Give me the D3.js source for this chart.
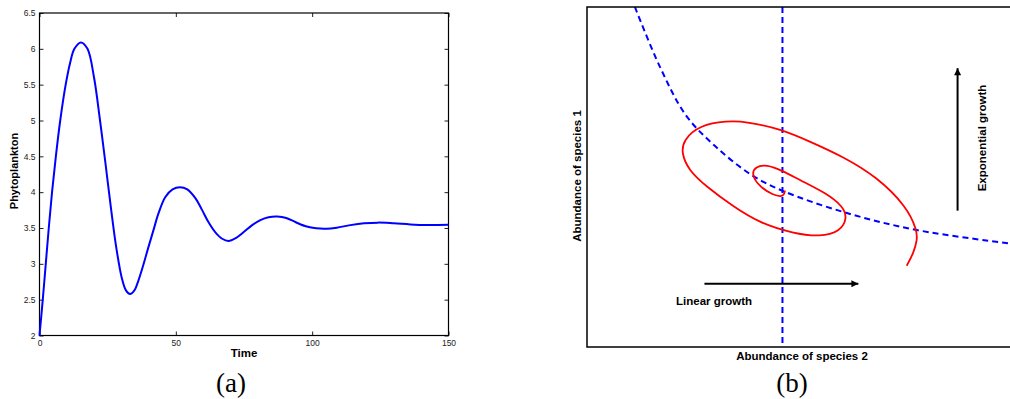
<!DOCTYPE html>
<html lang="en">
<head>
  <meta charset="UTF-8">
  <title>Phytoplankton and species abundance</title>
  <script src="https://d3js.org/d3.v7.min.js"></script>
  <style>
    body { margin: 0; padding: 0; background: white; overflow: hidden; }
  </style>
</head>
<body>
  <svg id="chart" width="1010" height="399"></svg>
  <script>
    // ---- Panel (a) data: phytoplankton over time ----
    const timeVals = [0, 1.2, 2.3, 3.4, 4.6, 6, 7.6, 9.6, 11.2, 12.8, 15.2,
                      17.6, 20, 22.2, 24.2, 26.3, 28.1, 30.2, 31.7, 33.2,
                      34.8, 36.3, 38.2, 40, 41.8, 43.6, 46.1, 48.8, 51.5,
                      54.2, 57.1, 59.5, 62, 64.5, 67, 69.3, 72, 74.8, 78, 81, 84, 87.2,
                      90.5, 94, 98, 101.5, 105.3, 109, 114, 119, 124.2, 130, 136, 142, 150];
    const phytoVals = [2, 2.5, 3, 3.5, 4, 4.5, 5, 5.5, 5.8, 6, 6.09,
                       6, 5.6, 5, 4.4, 3.75, 3.24, 2.8, 2.63, 2.58,
                       2.63, 2.77, 3, 3.24, 3.47, 3.7, 3.93, 4.04, 4.07,
                       4.04, 3.92, 3.76, 3.58, 3.44, 3.35, 3.32, 3.36, 3.44, 3.54, 3.61, 3.65, 3.66,
                       3.64, 3.58, 3.52, 3.495, 3.49, 3.505, 3.54, 3.565, 3.575, 3.565, 3.55, 3.542, 3.545];
    const xTicksA = [0, 50, 100, 150];
    const yTicksA = [2, 2.5, 3, 3.5, 4, 4.5, 5, 5.5, 6, 6.5];

    // ---- Panel (b) data: schematic phase plane (arbitrary units 0..100) ----
    const nullX = [11.3, 17.2, 23.3, 30.2, 38.8, 46.0, 61.3, 77.8, 100];
    const nullY = [100, 82.4, 68.2, 59.1, 50.6, 46.0, 39.4, 34.4, 30.4];
    const vertNullX = 46.1;
    const spiralX = [75.4, 77.0, 77.9, 77.8, 75.4, 68.3, 60.4, 52.6, 46.0, 37.7, 32.9, 26.7, 22.7, 22.3, 23.9,
                     28.2, 34.5, 40.8, 48.7, 55.0, 59.7, 61.4, 60.4, 56.5, 50.2, 46.0, 42.4, 39.6, 38.8, 40.8,
                     43.9, 45.9, 46.5, 46.7];
    const spiralY = [23.9, 27.6, 31.5, 34.4, 41.3, 50.1, 56.0, 60.4, 64.0, 66.3, 66.5, 65.3, 60.9, 57.0, 52.1,
                     47.1, 41.3, 36.4, 33.4, 32.4, 33.9, 37.9, 41.3, 45.2, 49.1, 51.9, 53.7, 53.0, 50.6, 47.0,
                     44.7, 44.2, 44.9, 46.0];
    const linArrow = [[27.7, 18.6], [64.0, 18.6]];
    const expArrow = [[87.4, 40.1], [87.4, 82.0]];

    const sans = "'Liberation Sans', Arial, sans-serif";
    const serif = "'Liberation Serif', 'DejaVu Serif', serif";
    const svg = d3.select("#chart");

    // ================= Panel (a) =================
    const a = { left: 39.5, right: 448.5, top: 13, bottom: 335.5 };
    const xA = d3.scaleLinear().domain([0, 150]).range([a.left, a.right]);
    const yA = d3.scaleLinear().domain([2, 6.5]).range([a.bottom, a.top]);
    const gA = svg.append("g");

    // ticks on all four sides, pointing inward
    const tickLen = 4;
    gA.append("g").attr("transform", `translate(0,${a.bottom})`)
      .call(d3.axisBottom(xA).tickValues(xTicksA).tickSizeInner(-tickLen).tickSizeOuter(0).tickPadding(4))
      .call(g => g.select(".domain").remove());
    gA.append("g").attr("transform", `translate(0,${a.top})`)
      .call(d3.axisTop(xA).tickValues(xTicksA).tickSizeInner(-tickLen).tickSizeOuter(0).tickFormat(""))
      .call(g => g.select(".domain").remove());
    gA.append("g").attr("transform", `translate(${a.left},0)`)
      .call(d3.axisLeft(yA).tickValues(yTicksA).tickSizeInner(-tickLen).tickSizeOuter(0).tickPadding(4).tickFormat(d3.format("")))
      .call(g => g.select(".domain").remove());
    gA.append("g").attr("transform", `translate(${a.right},0)`)
      .call(d3.axisRight(yA).tickValues(yTicksA).tickSizeInner(-tickLen).tickSizeOuter(0).tickFormat(""))
      .call(g => g.select(".domain").remove());

    gA.selectAll(".tick text").attr("font-size", 8.5).attr("fill", "#222")
      .style("font-family", sans);
    gA.selectAll(".tick line").attr("stroke", "#222");

    // box
    gA.append("rect")
      .attr("x", a.left).attr("y", a.top)
      .attr("width", a.right - a.left).attr("height", a.bottom - a.top)
      .attr("fill", "none").attr("stroke", "#000").attr("stroke-width", 1.2);

    const lineA = d3.line()
      .x((d, i) => xA(timeVals[i]))
      .y(d => yA(d))
      .curve(d3.curveCatmullRom.alpha(0.5));
    gA.append("path")
      .attr("d", lineA(phytoVals))
      .attr("fill", "none").attr("stroke", "#0000ff").attr("stroke-width", 2);

    gA.append("text").attr("x", 244).attr("y", 357)
      .attr("text-anchor", "middle").attr("font-size", 11.5).attr("font-weight", "bold")
      .style("font-family", sans).text("Time");
    gA.append("text").attr("transform", "translate(18,171) rotate(-90)")
      .attr("text-anchor", "middle").attr("font-size", 11).attr("font-weight", "bold")
      .style("font-family", sans).text("Phytoplankton");
    gA.append("text").attr("x", 231).attr("y", 392)
      .attr("text-anchor", "middle").attr("font-size", 27)
      .style("font-family", serif).text("(a)");

    // ================= Panel (b) =================
    const b = { left: 587, right: 1011, top: 7, bottom: 347 };
    const xB = d3.scaleLinear().domain([0, 100]).range([b.left, b.right]);
    const yB = d3.scaleLinear().domain([0, 100]).range([b.bottom, b.top]);
    const gB = svg.append("g");

    const defs = svg.append("defs");
    defs.append("clipPath").attr("id", "clipB")
      .append("rect").attr("x", b.left).attr("y", b.top)
      .attr("width", b.right - b.left).attr("height", b.bottom - b.top);

    const marker = defs.append("marker")
      .attr("id", "head").attr("viewBox", "0 0 10 10")
      .attr("refX", 10).attr("refY", 5)
      .attr("markerWidth", 11).attr("markerHeight", 7)
      .attr("markerUnits", "userSpaceOnUse")
      .attr("orient", "auto");
    marker.append("path").attr("d", "M0,0 L10,5 L0,10 Z").attr("fill", "#000");

    const plotB = gB.append("g").attr("clip-path", "url(#clipB)");

    // dashed nullclines
    const lineB = d3.line().curve(d3.curveCatmullRom);
    plotB.append("path")
      .attr("d", lineB(nullX.map((x, i) => [xB(x), yB(nullY[i])])))
      .attr("fill", "none").attr("stroke", "#0000ff").attr("stroke-width", 2)
      .attr("stroke-dasharray", "6,4");
    plotB.append("line")
      .attr("x1", xB(vertNullX)).attr("x2", xB(vertNullX))
      .attr("y1", yB(100)).attr("y2", yB(0))
      .attr("stroke", "#0000ff").attr("stroke-width", 2)
      .attr("stroke-dasharray", "6,4");

    // red spiral trajectory (basis curve smooths the read-off points)
    const spiralLine = d3.line().curve(d3.curveBasis);
    plotB.append("path")
      .attr("d", spiralLine(spiralX.map((x, i) => [xB(x), yB(spiralY[i])])))
      .attr("fill", "none").attr("stroke", "#ff0000").attr("stroke-width", 1.8);

    // arrows
    [linArrow, expArrow].forEach(arr => {
      gB.append("line")
        .attr("x1", xB(arr[0][0])).attr("y1", yB(arr[0][1]))
        .attr("x2", xB(arr[1][0])).attr("y2", yB(arr[1][1]))
        .attr("stroke", "#000").attr("stroke-width", 2)
        .attr("marker-end", "url(#head)");
    });

    // box: left, bottom and top edges (right edge falls outside the page)
    gB.append("rect")
      .attr("x", b.left).attr("y", b.top)
      .attr("width", b.right - b.left).attr("height", b.bottom - b.top)
      .attr("fill", "none").attr("stroke", "#000").attr("stroke-width", 1.5);

    gB.append("text").attr("x", 676).attr("y", 305)
      .attr("font-size", 11.5).attr("font-weight", "bold")
      .style("font-family", sans).text("Linear growth");
    gB.append("text").attr("transform", "translate(986,138) rotate(-90)")
      .attr("text-anchor", "middle").attr("font-size", 11.5).attr("font-weight", "bold")
      .style("font-family", sans).text("Exponential growth");
    gB.append("text").attr("transform", "translate(581,176) rotate(-90)")
      .attr("text-anchor", "middle").attr("font-size", 11.5).attr("font-weight", "bold")
      .style("font-family", sans).text("Abundance of species 1");
    gB.append("text").attr("x", 802).attr("y", 360)
      .attr("text-anchor", "middle").attr("font-size", 11.5).attr("font-weight", "bold")
      .style("font-family", sans).text("Abundance of species 2");
    gB.append("text").attr("x", 792).attr("y", 392)
      .attr("text-anchor", "middle").attr("font-size", 27)
      .style("font-family", serif).text("(b)");
  </script>
</body>
</html>
